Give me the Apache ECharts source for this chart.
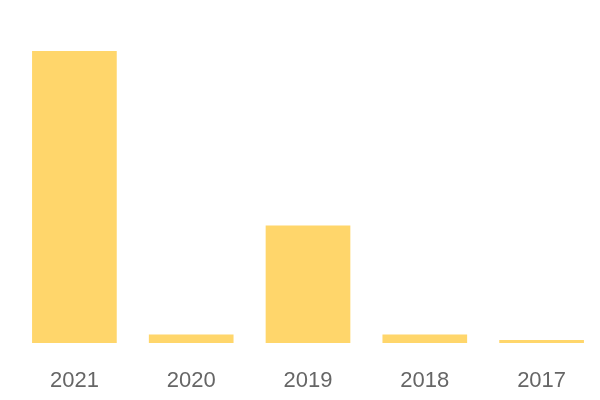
<!DOCTYPE html>
<html>
<head>
<meta charset="utf-8">
<script src="https://cdn.jsdelivr.net/npm/echarts@6/dist/echarts.min.js"></script>
<style>
  html, body { margin: 0; padding: 0; background: #fff; }
  #chart { width: 600px; height: 400px; }
</style>
</head>
<body>
<div id="chart"></div>
<script>
// years, newest first
var years = ['2021', '2020', '2019', '2018', '2017'];
var values = [100, 2.9, 40.2, 2.9, 1];

var chart = echarts.init(document.getElementById('chart'));
chart.setOption({
  animation: false,
  grid: {
    left: 16,
    right: 0,
    top: 51,
    bottom: 57
  },
  xAxis: {
    type: 'category',
    data: years,
    axisLine: { show: false },
    axisTick: { show: false },
    axisLabel: {
      color: '#666',
      fontSize: 22,
      fontFamily: 'Liberation Sans',
      margin: 27
    }
  },
  yAxis: {
    type: 'value',
    min: 0,
    max: 100,
    show: false,
    splitLine: { show: false }
  },
  series: [{
    type: 'bar',
    data: values,
    barWidth: '72.5%',
    itemStyle: { color: '#ffd66b' }
  }]
});
</script>
</body>
</html>
